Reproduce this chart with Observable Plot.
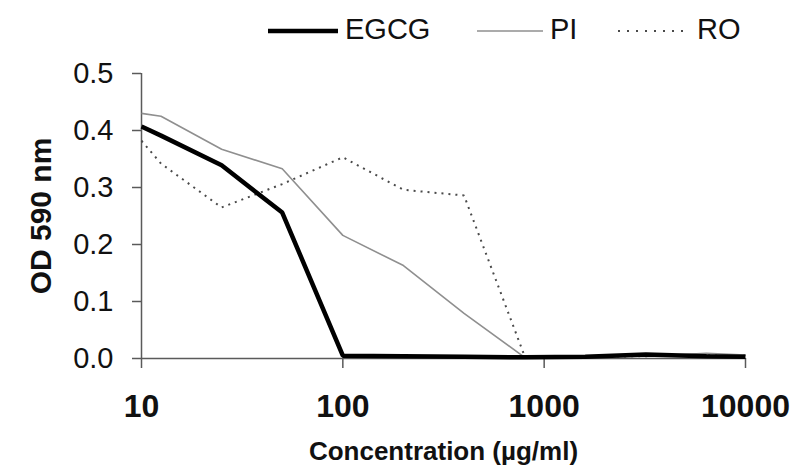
<!DOCTYPE html>
<html><head><meta charset="utf-8">
<script src="https://cdn.jsdelivr.net/npm/d3@7"></script>
<script src="https://cdn.jsdelivr.net/npm/@observablehq/plot@0.6"></script>
<style>
body{margin:0;background:#fff;font-family:"Liberation Sans",Arial,sans-serif;}
#legend{display:block;}
</style></head><body>
<svg id="legend" width="792" height="50"></svg>
<div id="chart"></div>
<script>
// Data
const concentrations = [10, 12.5, 25, 50, 100, 200, 400, 800, 1600, 3200, 6400, 10000];
const egcg = [0.407, 0.391, 0.339, 0.256, 0.005, 0.004, 0.003, 0.002, 0.003, 0.007, 0.004, 0.003];
const pi   = [0.430, 0.425, 0.367, 0.333, 0.216, 0.163, 0.079, 0.002, 0.003, 0.004, 0.009, 0.006];
const ro   = [0.382, 0.342, 0.265, 0.306, 0.353, 0.296, 0.286, 0.004, 0.003, 0.004, 0.006, 0.006];
const seriesNames = ["EGCG", "PI", "RO"];
const xTicks = [10, 100, 1000, 10000];
const yTicks = [0, 0.1, 0.2, 0.3, 0.4, 0.5];

const styles = {
  EGCG: {stroke: "#000000", strokeWidth: 4.5, dash: null},
  PI:   {stroke: "#8f8f8f", strokeWidth: 1.6, dash: null},
  RO:   {stroke: "#4a4a4a", strokeWidth: 2, dash: "2,5"}
};
const valuesBySeries = {EGCG: egcg, PI: pi, RO: ro};
const rows = seriesNames.flatMap(s => concentrations.map((c, i) => ({series: s, conc: c, od: valuesBySeries[s][i]})));

// Legend
const legend = d3.select("#legend");
const legendX = {EGCG: 268, PI: 477, RO: 618};
const legendLen = {EGCG: 70, PI: 66, RO: 66};
for (const s of seriesNames) {
  const st = styles[s];
  legend.append("line")
    .attr("x1", legendX[s]).attr("x2", legendX[s] + legendLen[s])
    .attr("y1", 31).attr("y2", 31)
    .attr("stroke", st.stroke).attr("stroke-width", st.strokeWidth)
    .attr("stroke-dasharray", st.dash ? "2,7" : null);
  legend.append("text")
    .attr("x", legendX[s] + legendLen[s] + (s === "RO" ? 13 : 7)).attr("y", 39)
    .attr("font-size", 29).attr("fill", "#111")
    .attr("font-family", "Liberation Sans, Arial, sans-serif")
    .text(s);
}

const lineMarks = ["RO", "PI", "EGCG"].map(s => Plot.line(rows.filter(d => d.series === s), {
  x: "conc", y: "od",
  stroke: styles[s].stroke,
  strokeWidth: styles[s].strokeWidth,
  strokeDasharray: styles[s].dash,
  strokeLinejoin: "miter",
  strokeLinecap: "butt"
}));

const axisColor = "#5a5a5a";
const chart = Plot.plot({
  width: 792,
  height: 418,
  marginTop: 23,
  marginBottom: 110,
  marginLeft: 141,
  marginRight: 47,
  style: {fontFamily: "Liberation Sans, Arial, sans-serif", background: "#fff", color: "#000", overflow: "visible"},
  x: {type: "log", domain: [10, 10000]},
  y: {domain: [0, 0.5]},
  marks: [
    Plot.axisY(yTicks, {
      tickSize: 9, tickPadding: 19, tickFormat: d3.format(".1f"),
      fontSize: 29, fill: "#111", stroke: axisColor, strokeWidth: 1.5,
      label: "OD 590 nm", labelAnchor: "center", labelArrow: "none", labelOffset: 112
    }),
    Plot.axisX(xTicks, {
      tickSize: 10, tickPadding: 26, tickFormat: d => String(d),
      fontSize: 32, fontWeight: "bold", fill: "#111", stroke: axisColor, strokeWidth: 1.5,
      label: "Concentration (µg/ml)", labelAnchor: "center", labelArrow: "none", labelOffset: 101
    }),
    // axis lines
    Plot.ruleX([10], {y1: 0, y2: 0.5, stroke: axisColor, strokeWidth: 1.5}),
    Plot.ruleY([0], {stroke: axisColor, strokeWidth: 1.5}),
    ...lineMarks
  ]
});
document.getElementById("chart").append(chart);
const svg = d3.select(chart);
svg.selectAll("g[aria-label='y-axis label'] text, g[aria-label='x-axis label'] text")
  .attr("font-weight", "bold");
svg.selectAll("g[aria-label='y-axis label'] text").attr("font-size", 30);
svg.selectAll("g[aria-label='x-axis label'] text").attr("font-size", 26);
</script>
</body></html>
